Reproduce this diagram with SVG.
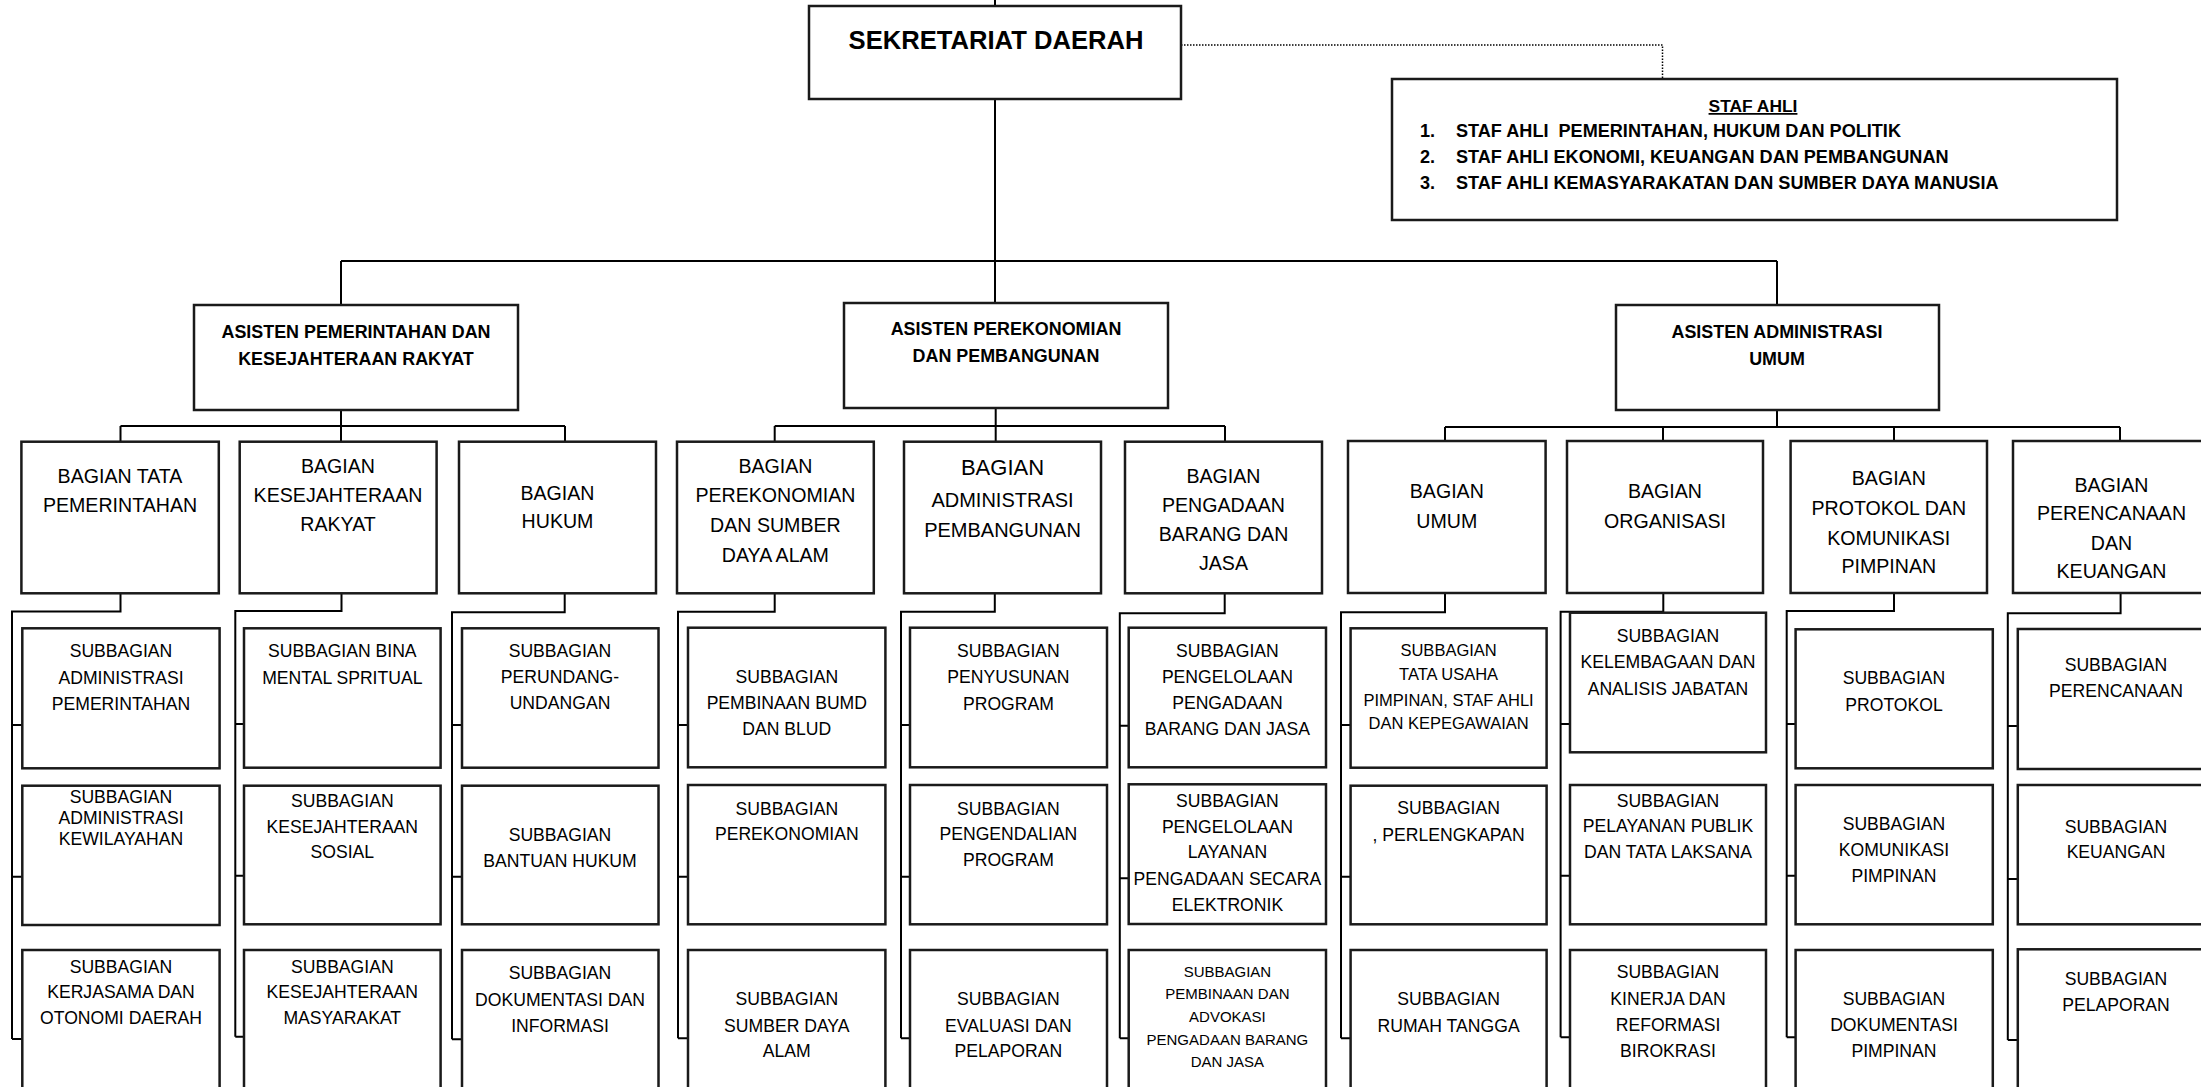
<svg xmlns="http://www.w3.org/2000/svg" width="2201" height="1087" viewBox="0 0 2201 1087">
<style>
.box{fill:#fff;stroke:#1a1a1a;stroke-width:2.5}
.ln{fill:none;stroke:#000;stroke-width:2}
.dot{fill:none;stroke:#000;stroke-width:1.5;stroke-dasharray:1.5 1.5}
text{font-family:"Liberation Sans",Arial,sans-serif;fill:#000;text-anchor:middle}
.b{font-weight:bold}
.asi{font-size:17.9px;font-weight:bold}
.bag{font-size:19.6px}
.sub{font-size:17.6px}
.sm{font-size:16.5px}
.xs{font-size:15px}
</style>
<rect width="2201" height="1087" fill="#fff"/>
<g id="connectors">
<path class="ln" d="M995,0V6M995,99V261M341,261H1777M341,261V305M995,261V303M1777,261V305"/>
<path class="dot" d="M1181,45H1662.5V79"/>
<path class="ln" d="M341,410V426M120.5,426H565M120.5,426V442M341,426V442M565,426V442"/>
<path class="ln" d="M995.7,408V426M774.7,426H1225M774.7,426V442M995.7,426V442M1225,426V442"/>
<path class="ln" d="M1777,410V427M1445,427H2120M1445,427V441M1663,427V441M1894,427V441M2120,427V441"/>
<path class="ln" d="M120.5,593V611.5H12V1039M12,725H22M12,876.7H22M12,1039H22"/>
<path class="ln" d="M341.5,593V611H235.3V1036.7M235.3,724H244M235.3,875.7H244M235.3,1036.7H244"/>
<path class="ln" d="M564.7,593V612.3H452V1039.3M452,725H462M452,876.7H462M452,1039.3H462"/>
<path class="ln" d="M774.7,593V611.7H678V1038.3M678,725H688M678,876.7H688M678,1038.3H688"/>
<path class="ln" d="M994.8,593V611.7H901V1038.3M901,725H910M901,876.7H910M901,1038.3H910"/>
<path class="ln" d="M1224.7,593V613.3H1119.8V1038.3M1119.8,725.7H1128.7M1119.8,878.3H1128.7M1119.8,1038.3H1128.7"/>
<path class="ln" d="M1445,593V612.3H1341V1038.3M1341,725H1350.6M1341,876.7H1350.6M1341,1038.3H1350.6"/>
<path class="ln" d="M1663.3,593V611.7H1560.6V1037.3M1560.6,724H1570M1560.6,875.7H1570M1560.6,1037.3H1570"/>
<path class="ln" d="M1894,593V611H1786.7V1037.3M1786.7,724H1795.6M1786.7,875.7H1795.6M1786.7,1037.3H1795.6"/>
<path class="ln" d="M2120.6,593V613.3H2007.8V1040M2007.8,726H2017.8M2007.8,879H2017.8M2007.8,1040H2017.8"/>
</g>
<g id="sekda"><rect class="box" x="809" y="6" width="372" height="93"/><text class="b" x="996" y="49" font-size="25.6">SEKRETARIAT DAERAH</text></g>
<g id="staf-ahli"><rect class="box" x="1392" y="79" width="725" height="141"/>
<text class="b" x="1753" y="112" font-size="17.4" text-decoration="underline">STAF AHLI</text>
<g class="b" font-size="18.1"><text x="1420" y="137" style="text-anchor:start">1.</text><text x="1456" y="137" style="text-anchor:start" xml:space="preserve">STAF AHLI  PEMERINTAHAN, HUKUM DAN POLITIK</text>
<text x="1420" y="162.5" style="text-anchor:start">2.</text><text x="1456" y="162.5" style="text-anchor:start">STAF AHLI EKONOMI, KEUANGAN DAN PEMBANGUNAN</text>
<text x="1420" y="189" style="text-anchor:start">3.</text><text x="1456" y="189" style="text-anchor:start">STAF AHLI KEMASYARAKATAN DAN SUMBER DAYA MANUSIA</text></g></g>
<g id="asisten-1"><rect class="box" x="194" y="305" width="324" height="105"/><text class="asi"><tspan x="356" y="338">ASISTEN PEMERINTAHAN DAN</tspan><tspan x="356" y="365">KESEJAHTERAAN RAKYAT</tspan></text></g>
<g id="asisten-2"><rect class="box" x="844" y="303" width="324" height="105"/><text class="asi"><tspan x="1006" y="335">ASISTEN PEREKONOMIAN</tspan><tspan x="1006" y="362">DAN PEMBANGUNAN</tspan></text></g>
<g id="asisten-3"><rect class="box" x="1616" y="305" width="323" height="105"/><text class="asi"><tspan x="1777" y="338">ASISTEN ADMINISTRASI</tspan><tspan x="1777" y="365">UMUM</tspan></text></g>
<g id="bagian-tapem"><rect class="box" x="21.4" y="441.7" width="197.4" height="151.6"/><text class="bag"><tspan x="120" y="483">BAGIAN TATA</tspan><tspan x="120" y="512">PEMERINTAHAN</tspan></text></g>
<g id="bagian-kesra"><rect class="box" x="239.7" y="441.7" width="196.9" height="151.6"/><text class="bag"><tspan x="338" y="473">BAGIAN</tspan><tspan x="338" y="502">KESEJAHTERAAN</tspan><tspan x="338" y="531">RAKYAT</tspan></text></g>
<g id="bagian-hukum"><rect class="box" x="459" y="441.7" width="197" height="151.6"/><text class="bag"><tspan x="557.5" y="500">BAGIAN</tspan><tspan x="557.5" y="528">HUKUM</tspan></text></g>
<g id="bagian-ekonomi"><rect class="box" x="677" y="441.7" width="196.8" height="151.6"/><text class="bag"><tspan x="775.4" y="473">BAGIAN</tspan><tspan x="775.4" y="502">PEREKONOMIAN</tspan><tspan x="775.4" y="532">DAN SUMBER</tspan><tspan x="775.4" y="562">DAYA ALAM</tspan></text></g>
<g id="bagian-adpem"><rect class="box" x="904" y="441.7" width="197" height="151.6"/><text class="bag"><tspan x="1002.5" y="475" font-size="22">BAGIAN</tspan><tspan x="1002.5" y="506.5" font-size="20">ADMINISTRASI</tspan><tspan x="1002.5" y="537" font-size="20">PEMBANGUNAN</tspan></text></g>
<g id="bagian-pbj"><rect class="box" x="1125" y="441.7" width="197" height="151.6"/><text class="bag"><tspan x="1223.5" y="483">BAGIAN</tspan><tspan x="1223.5" y="512">PENGADAAN</tspan><tspan x="1223.5" y="541">BARANG DAN</tspan><tspan x="1223.5" y="570">JASA</tspan></text></g>
<g id="bagian-umum"><rect class="box" x="1348" y="441" width="197.6" height="152"/><text class="bag"><tspan x="1446.8" y="498">BAGIAN</tspan><tspan x="1446.8" y="528">UMUM</tspan></text></g>
<g id="bagian-organisasi"><rect class="box" x="1567" y="441" width="196" height="152"/><text class="bag"><tspan x="1665" y="498">BAGIAN</tspan><tspan x="1665" y="528">ORGANISASI</tspan></text></g>
<g id="bagian-prokopim"><rect class="box" x="1790.6" y="441" width="196.4" height="152"/><text class="bag"><tspan x="1888.8" y="485">BAGIAN</tspan><tspan x="1888.8" y="515">PROTOKOL DAN</tspan><tspan x="1888.8" y="545">KOMUNIKASI</tspan><tspan x="1888.8" y="573">PIMPINAN</tspan></text></g>
<g id="bagian-renkeu"><rect class="box" x="2013" y="441" width="197" height="152"/><text class="bag"><tspan x="2111.5" y="492">BAGIAN</tspan><tspan x="2111.5" y="520">PERENCANAAN</tspan><tspan x="2111.5" y="550">DAN</tspan><tspan x="2111.5" y="578">KEUANGAN</tspan></text></g>
<g id="sub-1-1"><rect class="box" x="22.3" y="628.3" width="197.3" height="140"/><text class="sub"><tspan x="121" y="657">SUBBAGIAN</tspan><tspan x="121" y="683.5">ADMINISTRASI</tspan><tspan x="121" y="710">PEMERINTAHAN</tspan></text></g>
<g id="sub-1-2"><rect class="box" x="22.3" y="785.7" width="197.3" height="139.3"/><text class="sub"><tspan x="121" y="803">SUBBAGIAN</tspan><tspan x="121" y="824">ADMINISTRASI</tspan><tspan x="121" y="845">KEWILAYAHAN</tspan></text></g>
<g id="sub-1-3"><rect class="box" x="22.3" y="950" width="197.3" height="140"/><text class="sub"><tspan x="121" y="972.7">SUBBAGIAN</tspan><tspan x="121" y="998.3">KERJASAMA DAN</tspan><tspan x="121" y="1024.3">OTONOMI DAERAH</tspan></text></g>
<g id="sub-2-1"><rect class="box" x="244" y="628.3" width="196.6" height="139.4"/><text class="sub"><tspan x="342.3" y="657.3">SUBBAGIAN BINA</tspan><tspan x="342.3" y="684">MENTAL SPRITUAL</tspan></text></g>
<g id="sub-2-2"><rect class="box" x="244" y="785.7" width="196.6" height="138.6"/><text class="sub"><tspan x="342.3" y="807.3">SUBBAGIAN</tspan><tspan x="342.3" y="833.3">KESEJAHTERAAN</tspan><tspan x="342.3" y="858.3">SOSIAL</tspan></text></g>
<g id="sub-2-3"><rect class="box" x="244" y="950" width="196.6" height="140"/><text class="sub"><tspan x="342.3" y="972.7">SUBBAGIAN</tspan><tspan x="342.3" y="997.7">KESEJAHTERAAN</tspan><tspan x="342.3" y="1024.3">MASYARAKAT</tspan></text></g>
<g id="sub-3-1"><rect class="box" x="462" y="628.3" width="196.5" height="139.4"/><text class="sub"><tspan x="560" y="657.3">SUBBAGIAN</tspan><tspan x="560" y="683.3">PERUNDANG-</tspan><tspan x="560" y="709.3">UNDANGAN</tspan></text></g>
<g id="sub-3-2"><rect class="box" x="462" y="785.7" width="196.5" height="138.6"/><text class="sub"><tspan x="560" y="840.7">SUBBAGIAN</tspan><tspan x="560" y="866.7">BANTUAN HUKUM</tspan></text></g>
<g id="sub-3-3"><rect class="box" x="462" y="950" width="196.5" height="140"/><text class="sub"><tspan x="560" y="979">SUBBAGIAN</tspan><tspan x="560" y="1005.7">DOKUMENTASI DAN</tspan><tspan x="560" y="1031.7">INFORMASI</tspan></text></g>
<g id="sub-4-1"><rect class="box" x="688" y="627.7" width="197.4" height="139.6"/><text class="sub"><tspan x="786.8" y="683.3">SUBBAGIAN</tspan><tspan x="786.8" y="709.3">PEMBINAAN BUMD</tspan><tspan x="786.8" y="735">DAN BLUD</tspan></text></g>
<g id="sub-4-2"><rect class="box" x="688" y="785" width="197.4" height="139.3"/><text class="sub"><tspan x="786.8" y="815">SUBBAGIAN</tspan><tspan x="786.8" y="840">PEREKONOMIAN</tspan></text></g>
<g id="sub-4-3"><rect class="box" x="688" y="950" width="197.4" height="140"/><text class="sub"><tspan x="786.8" y="1005">SUBBAGIAN</tspan><tspan x="786.8" y="1031.7">SUMBER DAYA</tspan><tspan x="786.8" y="1056.7">ALAM</tspan></text></g>
<g id="sub-5-1"><rect class="box" x="910" y="627.7" width="197" height="139.6"/><text class="sub"><tspan x="1008.4" y="657.3">SUBBAGIAN</tspan><tspan x="1008.4" y="683.3">PENYUSUNAN</tspan><tspan x="1008.4" y="710">PROGRAM</tspan></text></g>
<g id="sub-5-2"><rect class="box" x="910" y="785" width="197" height="139.3"/><text class="sub"><tspan x="1008.4" y="815">SUBBAGIAN</tspan><tspan x="1008.4" y="840">PENGENDALIAN</tspan><tspan x="1008.4" y="866">PROGRAM</tspan></text></g>
<g id="sub-5-3"><rect class="box" x="910" y="950" width="197" height="140"/><text class="sub"><tspan x="1008.4" y="1005">SUBBAGIAN</tspan><tspan x="1008.4" y="1031.7">EVALUASI DAN</tspan><tspan x="1008.4" y="1056.7">PELAPORAN</tspan></text></g>
<g id="sub-6-1"><rect class="box" x="1128.7" y="627.7" width="197.3" height="139.6"/><text class="sub"><tspan x="1227.4" y="657.3">SUBBAGIAN</tspan><tspan x="1227.4" y="683.3">PENGELOLAAN</tspan><tspan x="1227.4" y="709.3">PENGADAAN</tspan><tspan x="1227.4" y="735">BARANG DAN JASA</tspan></text></g>
<g id="sub-6-2"><rect class="box" x="1128.7" y="784.3" width="197.3" height="139.7"/><text class="sub"><tspan x="1227.4" y="806.7">SUBBAGIAN</tspan><tspan x="1227.4" y="832.7">PENGELOLAAN</tspan><tspan x="1227.4" y="858.3">LAYANAN</tspan><tspan x="1227.4" y="885">PENGADAAN SECARA</tspan><tspan x="1227.4" y="911">ELEKTRONIK</tspan></text></g>
<g id="sub-6-3"><rect class="box" x="1128.7" y="950" width="197.3" height="140"/><text class="xs"><tspan x="1227.4" y="977.3">SUBBAGIAN</tspan><tspan x="1227.4" y="999.3">PEMBINAAN DAN</tspan><tspan x="1227.4" y="1021.7">ADVOKASI</tspan><tspan x="1227.4" y="1045">PENGADAAN BARANG</tspan><tspan x="1227.4" y="1066.7">DAN JASA</tspan></text></g>
<g id="sub-7-1"><rect class="box" x="1350.6" y="628.3" width="196" height="139.4"/><text class="sm"><tspan x="1448.6" y="656">SUBBAGIAN</tspan><tspan x="1448.6" y="680">TATA USAHA</tspan><tspan x="1448.6" y="706">PIMPINAN, STAF AHLI</tspan><tspan x="1448.6" y="729.3">DAN KEPEGAWAIAN</tspan></text></g>
<g id="sub-7-2"><rect class="box" x="1350.6" y="785.7" width="196" height="138.6"/><text class="sub"><tspan x="1448.6" y="814">SUBBAGIAN</tspan><tspan x="1448.6" y="840.7">, PERLENGKAPAN</tspan></text></g>
<g id="sub-7-3"><rect class="box" x="1350.6" y="950" width="196" height="140"/><text class="sub"><tspan x="1448.6" y="1005">SUBBAGIAN</tspan><tspan x="1448.6" y="1031.7">RUMAH TANGGA</tspan></text></g>
<g id="sub-8-1"><rect class="box" x="1570" y="612.7" width="196" height="139.6"/><text class="sub"><tspan x="1668" y="641.7">SUBBAGIAN</tspan><tspan x="1668" y="668.3">KELEMBAGAAN DAN</tspan><tspan x="1668" y="695">ANALISIS JABATAN</tspan></text></g>
<g id="sub-8-2"><rect class="box" x="1570" y="785" width="196" height="139.3"/><text class="sub"><tspan x="1668" y="806.7">SUBBAGIAN</tspan><tspan x="1668" y="832.3">PELAYANAN PUBLIK</tspan><tspan x="1668" y="857.7">DAN TATA LAKSANA</tspan></text></g>
<g id="sub-8-3"><rect class="box" x="1570" y="950" width="196" height="140"/><text class="sub"><tspan x="1668" y="978.3">SUBBAGIAN</tspan><tspan x="1668" y="1005">KINERJA DAN</tspan><tspan x="1668" y="1031">REFORMASI</tspan><tspan x="1668" y="1056.7">BIROKRASI</tspan></text></g>
<g id="sub-9-1"><rect class="box" x="1795.6" y="629.3" width="197.2" height="139"/><text class="sub"><tspan x="1894" y="684">SUBBAGIAN</tspan><tspan x="1894" y="711">PROTOKOL</tspan></text></g>
<g id="sub-9-2"><rect class="box" x="1795.6" y="785" width="197.2" height="139.3"/><text class="sub"><tspan x="1894" y="830">SUBBAGIAN</tspan><tspan x="1894" y="856">KOMUNIKASI</tspan><tspan x="1894" y="881.7">PIMPINAN</tspan></text></g>
<g id="sub-9-3"><rect class="box" x="1795.6" y="950" width="197.2" height="140"/><text class="sub"><tspan x="1894" y="1005">SUBBAGIAN</tspan><tspan x="1894" y="1031">DOKUMENTASI</tspan><tspan x="1894" y="1056.7">PIMPINAN</tspan></text></g>
<g id="sub-10-1"><rect class="box" x="2017.8" y="629" width="197" height="140"/><text class="sub"><tspan x="2116" y="670.7">SUBBAGIAN</tspan><tspan x="2116" y="696.7">PERENCANAAN</tspan></text></g>
<g id="sub-10-2"><rect class="box" x="2017.8" y="785" width="197" height="139.3"/><text class="sub"><tspan x="2116" y="832.7">SUBBAGIAN</tspan><tspan x="2116" y="858.3">KEUANGAN</tspan></text></g>
<g id="sub-10-3"><rect class="box" x="2017.8" y="949.3" width="197" height="140"/><text class="sub"><tspan x="2116" y="985">SUBBAGIAN</tspan><tspan x="2116" y="1011">PELAPORAN</tspan></text></g>
</svg>
